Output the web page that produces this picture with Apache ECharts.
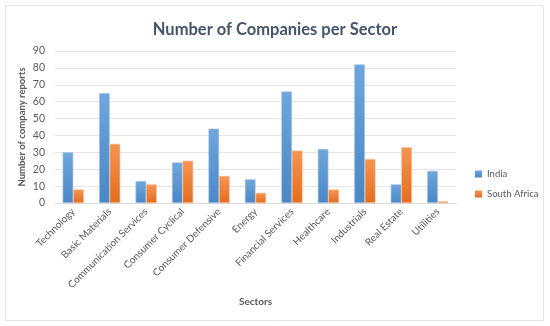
<!DOCTYPE html>
<html><head><meta charset="utf-8">
<script src="https://cdn.jsdelivr.net/npm/echarts@6/dist/echarts.min.js"></script>
<style>html,body{margin:0;padding:0;background:#fff}#c{width:550px;height:326px}</style>
</head><body><div id="c"></div>
<script>
const categories = ["Technology","Basic Materials","Communication Services","Consumer Cyclical","Consumer Defensive","Energy","Financial Services","Healthcare","Industrials","Real Estate","Utilities"];
const india = [30,65,13,24,44,14,66,32,82,11,19];
const southAfrica = [8,35,11,25,16,6,31,8,26,33,1];
const yTicks = {min:0, max:90, interval:10};

const font = 'Lato, "Open Sans", sans-serif';
const chart = echarts.init(document.getElementById('c'));
function grad(top, bottom){return new echarts.graphic.LinearGradient(0,0,0,1,[{offset:0,color:top},{offset:1,color:bottom}]);}
chart.setOption({
  animation:false,
  graphic:[{type:'rect',shape:{x:5.5,y:5.5,width:538,height:315},style:{fill:'none',stroke:'#e3e3e3',lineWidth:1},z:-1}],
  title:{text:'Number of Companies per Sector',left:'center',top:16,
    textStyle:{fontFamily:font,fontSize:16.5,fontWeight:'bold',color:'#44546a'}},
  legend:{orient:'vertical',left:470,top:164,itemWidth:7,itemHeight:7,itemGap:10,icon:'rect',itemStyle:{borderWidth:0},
    textStyle:{fontFamily:font,fontSize:9.5,color:'#595959'}},
  grid:{left:55,right:94,top:51,bottom:123},
  xAxis:{type:'category',data:categories,name:'Sectors',nameLocation:'middle',nameGap:94,nameMoveOverlap:false,
    nameTextStyle:{fontFamily:font,fontSize:10,fontWeight:'bold',color:'#595959'},
    axisLine:{lineStyle:{color:'#d9d9d9'}},axisTick:{show:false},
    axisLabel:{rotate:45,interval:0,fontFamily:font,fontSize:10,color:'#595959',margin:7}},
  yAxis:{type:'value',min:yTicks.min,max:yTicks.max,interval:yTicks.interval,
    name:'Number of company reports',nameLocation:'middle',nameGap:28,nameMoveOverlap:false,
    nameTextStyle:{fontFamily:font,fontSize:9.5,fontWeight:'bold',color:'#595959'},
    axisLabel:{fontFamily:font,fontSize:10.5,color:'#595959',margin:10},
    splitLine:{lineStyle:{color:'#e4e4e4'}}},
  series:[
    {name:'India',type:'bar',data:india,barGap:'0%',barCategoryGap:'42%',
      itemStyle:{color:grad('#6fa6dc','#4a87c6'),borderColor:'#9dc3e8',borderWidth:0.6}},
    {name:'South Africa',type:'bar',data:southAfrica,
      itemStyle:{color:grad('#f59552','#e56d1e'),borderColor:'#f6b88b',borderWidth:0.6}}
  ]
});
</script></body></html>
